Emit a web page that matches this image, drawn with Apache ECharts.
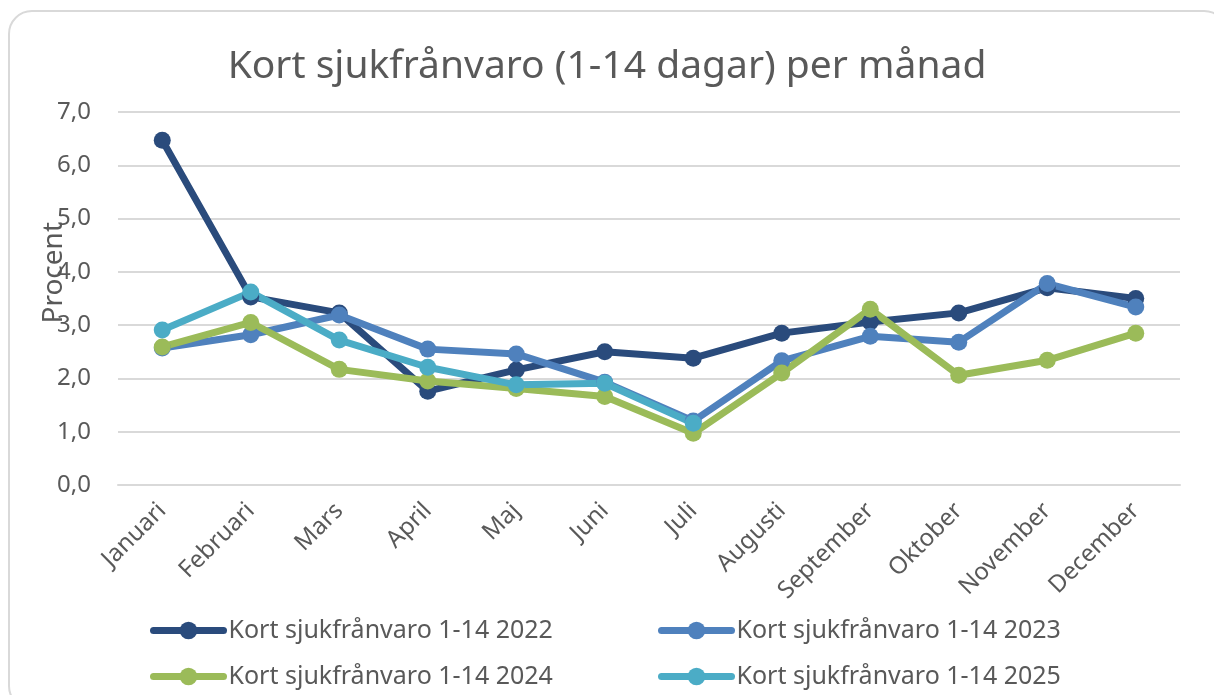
<!DOCTYPE html>
<html>
<head>
<meta charset="utf-8">
<script src="https://cdn.jsdelivr.net/npm/echarts@6/dist/echarts.min.js"></script>
<style>
  html, body { margin: 0; padding: 0; background: #fff; }
  #frame {
    position: absolute; left: 8px; top: 10px; width: 1220px; height: 700px;
    border: 2px solid #d9d9d9; border-radius: 24px; box-sizing: border-box;
  }
  #chart { position: absolute; left: 0; top: 0; width: 1214px; height: 695px; }
</style>
</head>
<body>
<div id="frame"></div>
<div id="chart"></div>
<script>
// månader
const months = ['Januari', 'Februari', 'Mars', 'April', 'Maj', 'Juni', 'Juli',
  'Augusti', 'September', 'Oktober', 'November', 'December']

// kort sjukfrånvaro i procent
const sick2022 = [6.47, 3.53, 3.23, 1.76, 2.16, 2.50, 2.38, 2.85, 3.06, 3.23, 3.70, 3.50]
const sick2023 = [2.57, 2.82, 3.19, 2.55, 2.46, 1.93, 1.20, 2.33, 2.79, 2.68, 3.78, 3.34]
const sick2024 = [2.59, 3.05, 2.17, 1.95, 1.81, 1.66, 0.97, 2.10, 3.30, 2.06, 2.34, 2.85]
const sick2025 = [2.91, 3.62, 2.72, 2.21, 1.88, 1.91, 1.16]

const seriesNames = ['Kort sjukfrånvaro 1-14 2022', 'Kort sjukfrånvaro 1-14 2023',
  'Kort sjukfrånvaro 1-14 2024', 'Kort sjukfrånvaro 1-14 2025']
const seriesData = [sick2022, sick2023, sick2024, sick2025]
const colors = ['#2a4b7c', '#4f81bd', '#9bbb59', '#4bacc6']

const font = 'Noto Sans'
const textColor = '#595959'

const chart = echarts.init(document.getElementById('chart'))

const series = seriesNames.map((name, i) => ({
  name: name,
  type: 'line',
  data: seriesData[i],
  symbol: 'circle',
  symbolSize: 17,
  lineStyle: { width: 7, color: colors[i], cap: 'round', join: 'round' },
  itemStyle: { color: colors[i] },
  animation: false
}))

// en legend per post för att styra placeringen
const legendPos = [
  { left: 150, top: 618 }, { left: 658, top: 618 },
  { left: 150, top: 664 }, { left: 658, top: 664 }
]
const legends = seriesNames.map((name, i) => ({
  data: [name],
  left: legendPos[i].left,
  top: legendPos[i].top,
  padding: 0,
  itemWidth: 70,
  itemHeight: 22,
  itemGap: 0,
  lineStyle: { width: 7, cap: 'round' },
  textStyle: { fontFamily: font, fontSize: 25, color: textColor }
}))

chart.setOption({
  backgroundColor: 'transparent',
  color: colors,
  title: {
    text: 'Kort sjukfrånvaro (1-14 dagar) per månad',
    left: 'center',
    top: 42,
    textStyle: { fontFamily: font, fontSize: 39, fontWeight: 'normal', color: textColor }
  },
  legend: legends,
  grid: { left: 118, right: 34, top: 112, bottom: 210 },
  xAxis: {
    type: 'category',
    data: months,
    boundaryGap: true,
    axisLine: { lineStyle: { color: '#d9d9d9', width: 2 } },
    axisTick: { show: false },
    axisLabel: {
      rotate: 45,
      interval: 0,
      margin: 22,
      fontFamily: font,
      fontSize: 24,
      color: textColor
    }
  },
  yAxis: {
    type: 'value',
    min: 0,
    max: 7,
    interval: 1,
    axisLine: { show: false },
    axisTick: { show: false },
    axisLabel: {
      margin: 27,
      fontFamily: font,
      fontSize: 24,
      color: textColor,
      formatter: v => v.toFixed(1).replace('.', ',')
    },
    splitLine: { lineStyle: { color: '#d9d9d9', width: 2 } }
  },
  graphic: [{
    type: 'text',
    left: 40,
    top: 222,
    rotation: Math.PI / 2,
    style: {
      text: 'Procent',
      fontFamily: font,
      fontSize: 28,
      fill: textColor
    }
  }],
  series: series
})
</script>
</body>
</html>
